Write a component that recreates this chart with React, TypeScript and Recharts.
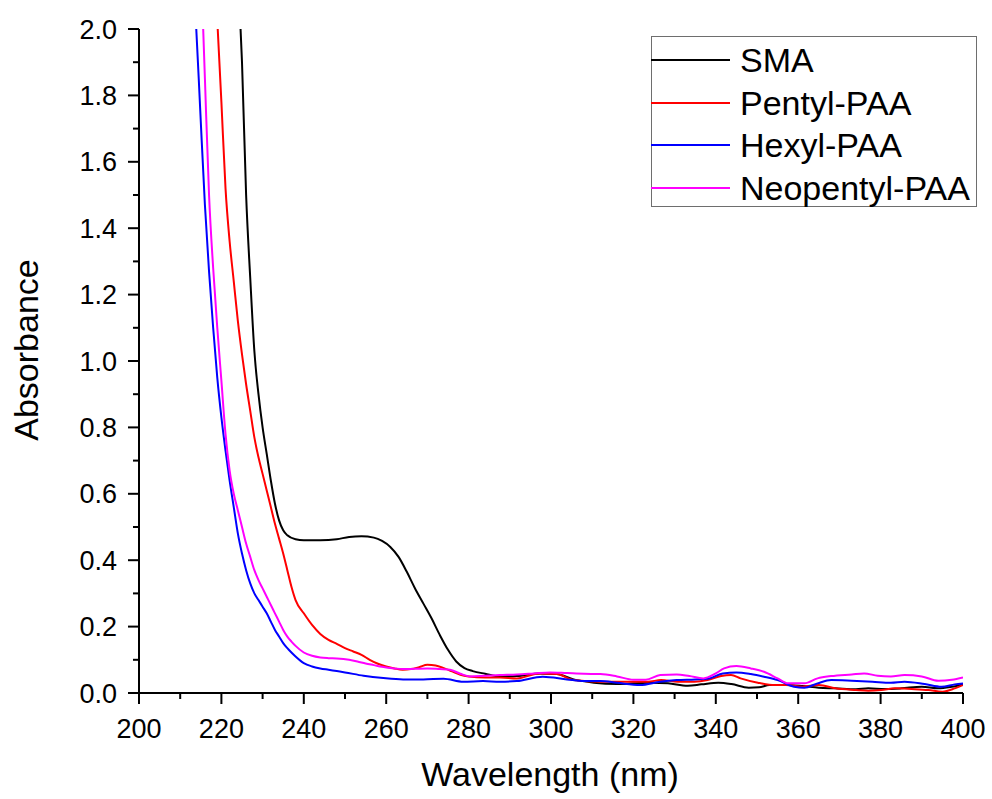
import { LineChart, Line, XAxis, YAxis, Legend } from "recharts";

const FONT = '"Liberation Sans", Arial, sans-serif';

// wavelength (nm) / absorbance pairs for each sample
const smaWl = [
  224.3, 225, 226, 227, 228, 229, 230, 231, 232, 233, 234, 235, 236, 238, 240, 244, 248, 251, 254, 257, 259,
  261, 263, 265, 267, 269, 271, 273, 275, 277, 279, 281, 284, 287.6, 291.7, 297.3, 301.4, 305.5, 310.4, 316,
  320, 324.3, 328.4, 333.2, 336.5, 340.6, 343.8, 348, 350.5, 353, 357, 361, 365, 369, 374, 377, 381, 385, 390,
  394, 397.3, 400,
];
const smaAbs = [
  2.1, 1.9, 1.5, 1.25, 1.03, 0.9, 0.8, 0.72, 0.64, 0.57, 0.52, 0.49, 0.475, 0.463, 0.46, 0.46, 0.463, 0.47,
  0.472, 0.468, 0.458, 0.44, 0.41, 0.365, 0.315, 0.27, 0.225, 0.175, 0.13, 0.095, 0.075, 0.066, 0.058, 0.05,
  0.051, 0.059, 0.057, 0.041, 0.031, 0.027, 0.029, 0.031, 0.029, 0.022, 0.026, 0.031, 0.027, 0.016, 0.017,
  0.024, 0.024, 0.021, 0.016, 0.014, 0.011, 0.014, 0.012, 0.014, 0.019, 0.014, 0.019, 0.026,
];

const pentylWl = [
  218.7, 220, 221, 222, 223, 224, 225, 226, 227, 228, 229, 230, 231, 232, 233, 234, 235, 236, 237, 238, 240,
  242, 244, 246, 248, 250, 252, 254, 256, 258, 260, 262, 264, 266, 268, 270, 272, 274, 276, 278, 280, 284,
  287.6, 291.7, 297.3, 301.4, 305.5, 312, 316, 320, 323.5, 326.7, 330.8, 334.8, 338, 341.3, 343.7, 346, 350.2,
  354.3, 357.5, 361, 365, 369, 374, 377, 380.2, 383.5, 387.5, 391.6, 395, 398, 400,
];
const pentylAbs = [
  2.1, 1.78, 1.52, 1.36, 1.24, 1.12, 1.02, 0.93, 0.85, 0.77, 0.71, 0.66, 0.61, 0.56, 0.51, 0.465, 0.42, 0.37,
  0.32, 0.28, 0.24, 0.205, 0.178, 0.16, 0.148, 0.135, 0.125, 0.115, 0.1, 0.088, 0.08, 0.074, 0.07, 0.072,
  0.078, 0.085, 0.083, 0.075, 0.065, 0.055, 0.05, 0.047, 0.047, 0.044, 0.059, 0.057, 0.039, 0.034, 0.034,
  0.034, 0.034, 0.039, 0.034, 0.034, 0.039, 0.051, 0.054, 0.044, 0.031, 0.024, 0.024, 0.019, 0.024, 0.014,
  0.009, 0.007, 0.009, 0.014, 0.012, 0.009, 0.004, 0.014, 0.024,
];

const hexylWl = [
  213.5, 214.5, 215, 216, 217, 218, 219, 220, 221, 222, 223, 224, 225, 226, 227, 228, 229, 230, 231, 232, 233,
  234, 235, 236, 237, 238, 240, 242, 244, 246, 248, 250, 254.5, 259.3, 264.1, 269, 273.9, 278.7, 283.5, 287.6,
  291.7, 298, 303.9, 308, 312, 316, 321.6, 326.5, 330.5, 335, 338.4, 341.7, 345, 348.5, 351.7, 355, 359,
  361.5, 364.7, 368, 373, 378, 382.5, 385.8, 390.7, 394.8, 398, 400,
];
const hexylAbs = [
  2.1, 1.85, 1.72, 1.47, 1.27, 1.1, 0.95, 0.83, 0.73, 0.64, 0.56, 0.48, 0.42, 0.37, 0.33, 0.3, 0.28, 0.26,
  0.24, 0.215, 0.19, 0.17, 0.15, 0.135, 0.122, 0.11, 0.09, 0.08, 0.074, 0.07, 0.066, 0.062, 0.052, 0.045,
  0.041, 0.041, 0.043, 0.034, 0.036, 0.034, 0.036, 0.049, 0.041, 0.036, 0.036, 0.031, 0.024, 0.034, 0.039,
  0.041, 0.044, 0.059, 0.062, 0.057, 0.049, 0.039, 0.019, 0.016, 0.029, 0.039, 0.037, 0.034, 0.031, 0.034,
  0.027, 0.019, 0.026, 0.029,
];

const neopentylWl = [
  215.3, 216, 217, 218, 219, 220, 221, 222, 223, 224, 225, 226, 227, 228, 229, 230, 231, 232, 233, 234, 235,
  236, 237, 238, 240, 242, 244, 246, 248, 251, 253, 255, 257, 259, 262, 264, 267, 270, 273, 275.5, 278, 280.3,
  284, 287.6, 291.7, 295.8, 299.8, 303.9, 308, 312, 316, 320, 323, 326.5, 330.5, 333.6, 337, 340, 342, 345,
  348.5, 351.7, 355, 357.5, 361.5, 364.7, 368, 373, 376, 379.3, 382.5, 385.8, 390, 394, 397.3, 400,
];
const neopentylAbs = [
  2.1, 1.85, 1.5, 1.28, 1.1, 0.94, 0.78, 0.67, 0.6, 0.55, 0.5, 0.45, 0.41, 0.37, 0.34, 0.315, 0.29, 0.265,
  0.24, 0.215, 0.19, 0.17, 0.155, 0.142, 0.122, 0.112, 0.107, 0.105, 0.104, 0.1, 0.095, 0.089, 0.084, 0.079,
  0.074, 0.072, 0.073, 0.074, 0.072, 0.07, 0.058, 0.05, 0.052, 0.054, 0.056, 0.059, 0.062, 0.06, 0.058,
  0.057, 0.05, 0.04, 0.04, 0.054, 0.056, 0.051, 0.044, 0.059, 0.074, 0.081, 0.074, 0.064, 0.044, 0.029,
  0.029, 0.044, 0.051, 0.056, 0.059, 0.052, 0.05, 0.054, 0.05, 0.037, 0.04, 0.047,
];

const xTicks = [200, 210, 220, 230, 240, 250, 260, 270, 280, 290, 300, 310, 320, 330, 340, 350, 360, 370, 380, 390, 400];
const yTicks = [0, 0.1, 0.2, 0.3, 0.4, 0.5, 0.6, 0.7, 0.8, 0.9, 1.0, 1.1, 1.2, 1.3, 1.4, 1.5, 1.6, 1.7, 1.8, 1.9, 2.0];

const toPoints = (wl: number[], abs: number[]) => wl.map((w, i) => ({ wl: w, a: abs[i] }));

const series = [
  { name: "SMA", color: "#000000", data: toPoints(smaWl, smaAbs) },
  { name: "Pentyl-PAA", color: "#ff0000", data: toPoints(pentylWl, pentylAbs) },
  { name: "Hexyl-PAA", color: "#0000ff", data: toPoints(hexylWl, hexylAbs) },
  { name: "Neopentyl-PAA", color: "#ff00ff", data: toPoints(neopentylWl, neopentylAbs) },
];

// major ticks carry a label, minor ticks are shorter and blank
function XTick({ x, y, payload }: any) {
  const major = payload.value % 20 === 0;
  return (
    <g>
      <line x1={x} x2={x} y1={y} y2={y + (major ? 11 : 6)} stroke="#000" strokeWidth={2} />
      {major && (
        <text x={x} y={y + 45} textAnchor="middle" fontSize={27} fontFamily={FONT} fill="#000">
          {payload.value}
        </text>
      )}
    </g>
  );
}

function YTick({ x, y, payload }: any) {
  const major = Math.round(payload.value * 10) % 2 === 0;
  return (
    <g>
      <line x1={x} x2={x - (major ? 11 : 6)} y1={y} y2={y} stroke="#000" strokeWidth={2} />
      {major && (
        <text x={x - 22} y={y + 9.5} textAnchor="end" fontSize={27} fontFamily={FONT} fill="#000">
          {payload.value.toFixed(1)}
        </text>
      )}
    </g>
  );
}

function LegendBox() {
  return (
    <div
      style={{
        position: "relative",
        width: 326,
        height: 171,
        border: "1px solid #6e6e6e",
        boxSizing: "border-box",
        background: "#fff",
        fontFamily: FONT,
      }}
    >
      {series.map((s, i) => (
        <div
          key={s.name}
          style={{
            position: "absolute",
            left: -1,
            top: 23 + i * 42.5 - 21,
            height: 42,
            display: "flex",
            alignItems: "center",
            whiteSpace: "nowrap",
          }}
        >
          <div style={{ width: 79, height: 2, background: s.color }} />
          <span style={{ marginLeft: 10, fontSize: 34, lineHeight: "42px", color: "#000" }}>{s.name}</span>
        </div>
      ))}
    </div>
  );
}

export default function App() {
  return (
    <div style={{ position: "absolute", left: 0, top: 0, width: 992, height: 799, background: "#fff" }}>
      <LineChart width={992} height={799} margin={{ top: 29, right: 29, bottom: 0, left: 0 }}>
        <XAxis
          type="number"
          dataKey="wl"
          domain={[200, 400]}
          ticks={xTicks}
          interval={0}
          height={106}
          tickSize={0}
          tickMargin={0}
          tickLine={false}
          tick={<XTick />}
          axisLine={{ stroke: "#000", strokeWidth: 2 }}
          allowDataOverflow
          label={{
            content: () => (
              <text x={550} y={786} textAnchor="middle" fontSize={34} fontFamily={FONT} fill="#000">
                Wavelength (nm)
              </text>
            ),
          }}
        />
        <YAxis
          type="number"
          domain={[0, 2]}
          ticks={yTicks}
          interval={0}
          width={139}
          tickSize={0}
          tickMargin={0}
          tickLine={false}
          tick={<YTick />}
          axisLine={{ stroke: "#000", strokeWidth: 2 }}
          allowDataOverflow
          label={{
            content: () => (
              <text
                x={38}
                y={350}
                transform="rotate(-90, 38, 350)"
                textAnchor="middle"
                fontSize={34}
                fontFamily={FONT}
                fill="#000"
              >
                Absorbance
              </text>
            ),
          }}
        />
        <Legend
          layout="vertical"
          align="center"
          verticalAlign="middle"
          wrapperStyle={{ left: 651, top: 36, width: 326, height: 171 }}
          content={() => <LegendBox />}
        />
        {series.map((s) => (
          <Line
            key={s.name}
            name={s.name}
            data={s.data}
            dataKey="a"
            type="monotone"
            stroke={s.color}
            strokeWidth={2}
            dot={false}
            activeDot={false}
            isAnimationActive={false}
          />
        ))}
      </LineChart>
    </div>
  );
}
